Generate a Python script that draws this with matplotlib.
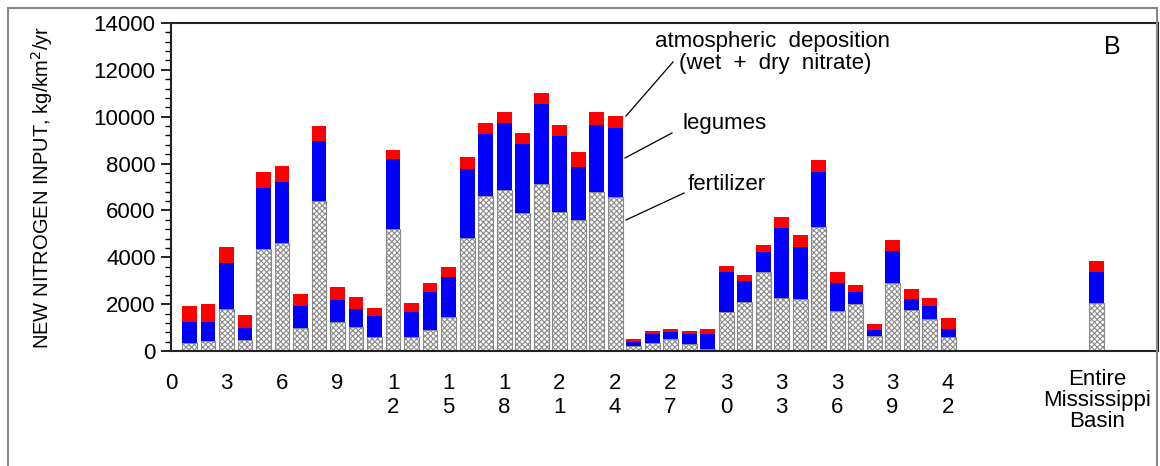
import numpy as np
import matplotlib
matplotlib.use("Agg")
import matplotlib.pyplot as plt
from matplotlib.patches import Rectangle

plt.rcParams['font.family'] = ['Liberation Sans', 'DejaVu Sans']
plt.rcParams['hatch.linewidth'] = 0.8
plt.rcParams['hatch.color'] = '#8a8a8a'

# basins 1..42 plus the entire Mississippi basin (kg/km2/yr, cumulative tops)
positions = list(range(1, 43)) + [50]
fert_top = [357, 414, 1811, 456, 4364, 4592, 998, 6403, 1226, 1041,
            599, 5205, 599, 884, 1440, 4806, 6631, 6859, 5889, 7116,
            5932, 5590, 6774, 6574, 200, 342, 499, 314, 71, 1654,
            2075, 3380, 2253, 2210, 5290, 1697, 1996, 627, 2923, 1740,
            1355, 585, 2053]
leg_top = [1226, 1255, 3750, 984, 6945, 7230, 1911, 8984, 2182, 1783,
           1512, 8200, 1654, 2510, 3151, 7757, 9283, 9711, 8841, 10552,
           9198, 7857, 9654, 9511, 385, 742, 813, 742, 727, 3351,
           2980, 4207, 5248, 4449, 7658, 2909, 2524, 898, 4278, 2225,
           1911, 941, 3380]
atm_top = [1911, 1996, 4421, 1526, 7643, 7900, 2453, 9583, 2724, 2296,
           1854, 8585, 2039, 2895, 3579, 8285, 9740, 10210, 9312, 11023,
           9654, 8499, 10196, 10039, 499, 841, 941, 841, 927, 3622,
           3230, 4520, 5718, 4934, 8157, 3365, 2823, 1141, 4734, 2638,
           2253, 1397, 3836]

fertilizer = np.array(fert_top)
legumes = np.array(leg_top) - fertilizer
atmospheric = np.array(atm_top) - np.array(leg_top)

tick_pos = list(range(0, 43, 3))
tick_labels = ["\n".join(str(t)) for t in tick_pos]

fig = plt.figure(figsize=(11.6, 4.66), dpi=100)
ax = fig.add_axes([171 / 1160, 1 - 351 / 466, (1158 - 171) / 1160, (351 - 23) / 466])

w = 0.81
ax.bar(positions, fertilizer, width=w, color='white', edgecolor='#8a8a8a',
       hatch='xxxxxx', linewidth=0.8)
ax.bar(positions, legumes, width=w, bottom=fertilizer, color='#0000ff', linewidth=0)
ax.bar(positions, atmospheric, width=w, bottom=fertilizer + legumes,
       color='#ff0000', linewidth=0)

ax.set_xlim(0, 53.35)
ax.set_ylim(0, 14000)
ax.set_yticks(np.arange(0, 14001, 2000))
ax.set_yticks(np.arange(0, 14001, 400), minor=True)
ax.tick_params(axis='y', which='major', length=7, width=1.2, labelsize=16, pad=4)
ax.tick_params(axis='y', which='minor', length=4, width=1.0)
ax.set_xticks(tick_pos)
ax.set_xticklabels(tick_labels, fontsize=16, linespacing=1.15, va='top')
ax.tick_params(axis='x', length=0, pad=16)
for s in ax.spines.values():
    s.set_linewidth(1.5)
    s.set_color('#222222')

ax.set_ylabel('NEW NITROGEN INPUT, kg/km$^2$/yr', fontsize=14.5)
ax.yaxis.set_label_coords(-0.118, 0.5)

# figure pixel coordinates, y measured from the top
def fig_xy(x, y):
    return (x / 1160, 1 - y / 466)

fig.text(*fig_xy(1097, 369), 'Entire\nMississippi\nBasin', ha='center', va='top',
         fontsize=16, linespacing=1.0)
fig.text(*fig_xy(1104, 47), 'B', fontsize=18, va='center')

fig.text(*fig_xy(655, 42), 'atmospheric  deposition', fontsize=16, va='center')
fig.text(*fig_xy(679, 63), '(wet  +  dry  nitrate)', fontsize=16, va='center')
fig.text(*fig_xy(683, 124), 'legumes', fontsize=16, va='center')
fig.text(*fig_xy(688, 185), 'fertilizer', fontsize=16, va='center')
for (x0, y0, x1, y1) in [(626, 116, 673, 62), (625, 158, 672, 133), (626, 220, 684, 193)]:
    p0 = fig_xy(x0, y0)
    p1 = fig_xy(x1, y1)
    fig.add_artist(plt.Line2D([p0[0], p1[0]], [p0[1], p1[1]], color='black', lw=0.9))

# outer gray frame
fig.add_artist(Rectangle(fig_xy(8, 480), (1157 - 8) / 1160, (480 - 8) / 466,
                         transform=fig.transFigure, fill=False, edgecolor='#888888',
                         linewidth=1.5))

fig.savefig('out.png', dpi=100)
